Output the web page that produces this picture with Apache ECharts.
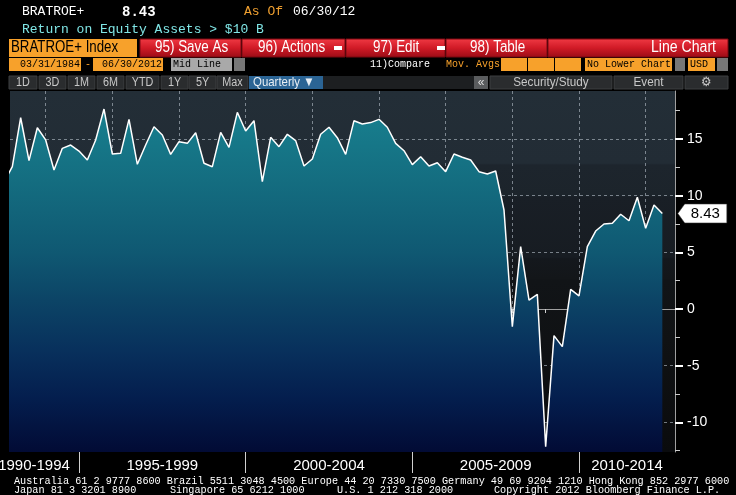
<!DOCTYPE html>
<html><head><meta charset="utf-8">
<script src="https://cdn.jsdelivr.net/npm/echarts@6/dist/echarts.min.js"></script>
<style>html,body{margin:0;padding:0;background:#000;overflow:hidden}#c{width:736px;height:495px}</style>
</head><body><div id="c"></div>
<script>
// ---- data ----
const dates = [
'1992-09-30','1992-12-31',
'1993-03-31','1993-06-30','1993-09-30','1993-12-31',
'1994-03-31','1994-06-30','1994-09-30','1994-12-31',
'1995-03-31','1995-06-30','1995-09-30','1995-12-31',
'1996-03-31','1996-06-30','1996-09-30','1996-12-31',
'1997-03-31','1997-06-30','1997-09-30','1997-12-31',
'1998-03-31','1998-06-30','1998-09-30','1998-12-31',
'1999-03-31','1999-06-30','1999-09-30','1999-12-31',
'2000-03-31','2000-06-30','2000-09-30','2000-12-31',
'2001-03-31','2001-06-30','2001-09-30','2001-12-31',
'2002-03-31','2002-06-30','2002-09-30','2002-12-31',
'2003-03-31','2003-06-30','2003-09-30','2003-12-31',
'2004-03-31','2004-06-30','2004-09-30','2004-12-31',
'2005-03-31','2005-06-30','2005-09-30','2005-12-31',
'2006-03-31','2006-06-30','2006-09-30','2006-12-31',
'2007-03-31','2007-06-30','2007-09-30','2007-12-31',
'2008-03-31','2008-06-30','2008-09-30','2008-12-31',
'2009-03-31','2009-06-30','2009-09-30','2009-12-31',
'2010-03-31','2010-06-30','2010-09-30','2010-12-31',
'2011-03-31','2011-06-30','2011-09-30','2011-12-31',
'2012-03-31','2012-06-30'
];
const roe = [
11.2,12.56,
16.88,13.09,16.0,14.92,
12.27,14.18,14.47,13.94,
13.15,14.92,17.65,13.68,
13.74,16.74,12.77,14.47,
16.09,15.36,13.65,14.77,
14.62,15.56,12.86,12.56,
15.59,14.27,17.36,15.71,
16.62,11.24,15.15,14.33,
15.42,14.86,12.62,13.24,
15.42,16.04,15.12,13.65,
16.62,16.33,16.45,16.74,
16.04,14.62,13.97,12.74,
13.44,12.62,12.91,12.12,
13.68,13.39,13.15,12.12,
11.92,12.18,8.74,-1.56,
5.5,0.79,1.29,-12.15,
-2.35,-3.32,1.73,1.16,
5.5,6.88,7.5,7.56,
8.36,7.79,9.86,7.12,
9.18,8.43
];
const lastValue = 8.43;
const yTicks = [-10,-5,0,5,10,15];
const yMinorTicks = [-12.5,-7.5,-2.5,2.5,7.5,12.5,17.5];
const xGridYears = [1994,1996,1998,2000,2002,2004,2006,2008,2010,2012];
const xYearTicks = [1993,1994,1996,1997,1998,1999,2001,2002,2003,2004,2006,2007,2008,2009,2011,2012];
const xPeriodTicks = [1995,2000,2005,2010];
const xPeriodLabels = ['1990-1994','1995-1999','2000-2004','2005-2009','2010-2014'];
const xPeriodLabelPos = [1993.65,1997.5,2002.5,2007.5,2011.44];

// ---- helpers ----
function toYear(d){const p=d.split('-').map(Number);return p[0]+p[1]/12;}
const seriesData = dates.map((d,i)=>[toYear(d),roe[i]]);
const lastX = toYear(dates[dates.length-1]);
const X0 = 1992.93, X1 = 2012.88, Y0 = -12.62, Y1 = 19.24;

const MONO = '"Liberation Mono","DejaVu Sans Mono",monospace';
const SANS = '"Liberation Sans",Arial,sans-serif';
const gridLine = {show:true,lineStyle:{color:'rgba(185,195,205,0.6)',width:1,type:[3,3]}};

function txt(x,y,s,fill,font,align,sx){return {type:'text',x:x,y:y,scaleX:sx||1,style:{text:s,fill:fill,font:font,textAlign:align||'left',textVerticalAlign:'middle'},silent:true};}
function rect(x,y,w,h,fill,stroke){return {type:'rect',shape:{x:x,y:y,width:w,height:h},style:{fill:fill,stroke:stroke||null,lineWidth:1},silent:true};}
const redGrad = {type:'linear',x:0,y:0,x2:0,y2:1,colorStops:[{offset:0,color:'#f03a44'},{offset:0.5,color:'#d01a26'},{offset:1,color:'#9a0c16'}]};

const g = [];
// header
g.push(txt(22,12,'BRATROE+','#fff','13px '+MONO));
g.push(txt(122,12,'8.43','#fff','bold 14px '+MONO));
g.push(txt(244,12,'As Of','#f0a030','13px '+MONO));
g.push(txt(293,12,'06/30/12','#fff','13px '+MONO));
g.push(txt(22,30,'Return on Equity Assets > $10 B','#80e6e6','13px '+MONO));
// toolbar row
g.push(rect(9,39,128,18,'#f7a12b'));
g.push(txt(11,48,'BRATROE+ Index','#000','16px '+SANS,'left',0.83));
[[140,101],[242,103],[346,99],[446,101],[548,180]].forEach(b=>g.push(rect(b[0],39,b[1],18,redGrad,'#7a0810')));
g.push(txt(155,48,'95) Save As','#fff','16px '+SANS,'left',0.84));
g.push(txt(258,48,'96) Actions','#fff','16px '+SANS,'left',0.84));
g.push(rect(334,46,8,4,'#fff'));
g.push(txt(373,48,'97) Edit','#fff','16px '+SANS,'left',0.84));
g.push(rect(437,46,8,4,'#fff'));
g.push(txt(470,48,'98) Table','#fff','16px '+SANS,'left',0.84));
g.push(txt(716,48,'Line Chart','#fff','16px '+SANS,'right',0.88));
// row 3
g.push(rect(9,58,72,13,'#f7a12b'));
g.push(txt(80,64.5,'03/31/1984','#000','10px '+MONO,'right'));
g.push(txt(85,64.5,'-','#f7a12b','10px '+MONO));
g.push(rect(93,58,70,13,'#f7a12b'));
g.push(txt(162,64.5,'06/30/2012','#000','10px '+MONO,'right'));
g.push(rect(171,58,61,13,'#a9a9a9'));
g.push(txt(173,64.5,'Mid Line','#000','10px '+MONO));
g.push(rect(234,58,11,13,'#777'));
g.push(txt(370,64.5,'11)Compare','#fff','10px '+MONO));
g.push(txt(446,64.5,'Mov. Avgs','#f7a12b','10px '+MONO));
[501,528,555].forEach(x=>g.push(rect(x,58,26,13,'#f7a12b')));
g.push(rect(585,58,87,13,'#f7a12b'));
g.push(txt(587,64.5,'No Lower Chart','#000','10px '+MONO));
g.push(rect(675,58,10,13,'#777'));
g.push(rect(688,58,27,13,'#f7a12b'));
g.push(txt(690,64.5,'USD','#000','10px '+MONO));
g.push(rect(717,58,11,13,'#777'));
// row 4
[['1D',9,28],['3D',39,27],['1M',68,27],['6M',97,27],['YTD',126,33],['1Y',161,27],['5Y',189,27],['Max',217,31]].forEach(b=>{
  g.push(rect(b[1],76,b[2],13,'#2a2c2e','#3c3e40'));
  g.push(txt(b[1]+b[2]/2,82.5,b[0],'#c8c8c8','12px '+SANS,'center',0.9));
});
g.push(rect(249,76,74,13,'#2b6494'));
g.push(txt(253,82.5,'Quarterly \u25BC','#e8eef4','13px '+SANS,'left',0.88));
g.push(rect(323,76,151,13,'#1d1f21'));
g.push(rect(474,76,14,13,'#5a5c5e'));
g.push(txt(481,82.5,'\u00AB','#ddd','12px '+SANS,'center'));
[['Security/Study',490,122],['Event',614,69],['\u2699',685,43]].forEach(b=>{
  g.push(rect(b[1],76,b[2],13,'#2a2c2e','#3c3e40'));
  g.push(txt(b[1]+b[2]/2,82.5,b[0],'#c8c8c8','13px '+SANS,'center',0.9));
});
// footer
g.push(txt(14,481,'Australia 61 2 9777 8600 Brazil 5511 3048 4500 Europe 44 20 7330 7500 Germany 49 69 9204 1210 Hong Kong 852 2977 6000','#fff','10.2px '+MONO));
g.push(txt(14,490,'Japan 81 3 3201 8900','#fff','10.2px '+MONO));
g.push(txt(170,490,'Singapore 65 6212 1000','#fff','10.2px '+MONO));
g.push(txt(337,490,'U.S. 1 212 318 2000','#fff','10.2px '+MONO));
g.push(txt(494,490,'Copyright 2012 Bloomberg Finance L.P.','#fff','10.2px '+MONO));

const chart = echarts.init(document.getElementById('c'));
chart.setOption({
  backgroundColor:'#000',
  animation:false,
  graphic:g,
  grid:{left:10,right:61,top:91,height:361,containLabel:false,outerBoundsMode:'none',show:true,borderWidth:0,
    backgroundColor:{type:'linear',x:0,y:0,x2:0,y2:1,colorStops:[
      {offset:0,color:'#232e37'},{offset:0.2,color:'#222c35'},{offset:0.205,color:'#1d252d'},
      {offset:0.29,color:'#1c242b'},{offset:0.295,color:'#191f26'},{offset:0.46,color:'#171c22'},
      {offset:0.465,color:'#14181d'},{offset:0.52,color:'#131619'},{offset:0.525,color:'#111417'},
      {offset:0.69,color:'#101214'},{offset:1,color:'#0a0b0d'}]}},
  xAxis:[
    {type:'value',min:X0,max:X1,position:'bottom',
     axisLine:{show:true,lineStyle:{color:'#a0a0a0',width:1}},
     axisTick:{show:false,customValues:xGridYears},axisLabel:{show:false},splitLine:gridLine},
    {type:'value',min:X0,max:X1,position:'bottom',axisLine:{show:false},
     axisTick:{show:true,customValues:xYearTicks,length:4,lineStyle:{color:'#d0d0d0'}},
     axisLabel:{show:false},splitLine:{show:false}},
    {type:'value',min:X0,max:X1,position:'bottom',axisLine:{show:false},
     axisTick:{show:true,customValues:xPeriodTicks,length:21,lineStyle:{color:'#d0d0d0'}},
     axisLabel:{show:true,customValues:xPeriodLabelPos,margin:6,color:'#fff',fontSize:15,fontFamily:SANS,hideOverlap:false,
       formatter:v=>{const i=xPeriodLabelPos.findIndex(p=>Math.abs(p-v)<1e-6);return i>=0?xPeriodLabels[i]:'';}},
     splitLine:{show:false}}
  ],
  yAxis:[
    {type:'value',min:Y0,max:Y1,position:'right',
     axisLine:{show:true,lineStyle:{color:'#a0a0a0',width:1}},
     axisTick:{show:true,customValues:yTicks,length:8,lineStyle:{color:'#fff',width:2}},
     axisLabel:{show:true,customValues:yTicks,margin:12,color:'#fff',fontSize:14,fontFamily:SANS},
     splitLine:gridLine},
    {type:'value',min:Y0,max:Y1,position:'right',axisLine:{show:false},
     axisTick:{show:true,customValues:yMinorTicks,length:5,lineStyle:{color:'#ccc'}},
     axisLabel:{show:false},splitLine:{show:false}}
  ],
  series:[{
    type:'line',xAxisIndex:0,yAxisIndex:0,data:seriesData,symbol:'none',clip:true,
    lineStyle:{color:'#fff',width:1.5},
    areaStyle:{origin:'start',opacity:1,color:{type:'linear',x:0,y:91,x2:0,y2:452,global:true,colorStops:[
      {offset:0,color:'#198592'},{offset:0.1,color:'#177b8b'},{offset:0.25,color:'#146d80'},
      {offset:0.45,color:'#0f5872'},{offset:0.58,color:'#0c4466'},{offset:0.72,color:'#08305c'},
      {offset:0.85,color:'#041e4e'},{offset:1,color:'#020b35'}]}},
    markPoint:{
      symbol:'path://M0,10 L7,0 L50,0 L50,20 L7,20 Z',symbolSize:[49,19],symbolOffset:[40,0],
      itemStyle:{color:'#fff',borderColor:'#333',borderWidth:0.5},
      label:{show:true,color:'#000',fontSize:15,fontFamily:SANS,offset:[3,0],formatter:()=>lastValue.toFixed(2)},
      data:[{coord:[lastX,lastValue],value:lastValue}]
    }
  }]
});
</script></body></html>
